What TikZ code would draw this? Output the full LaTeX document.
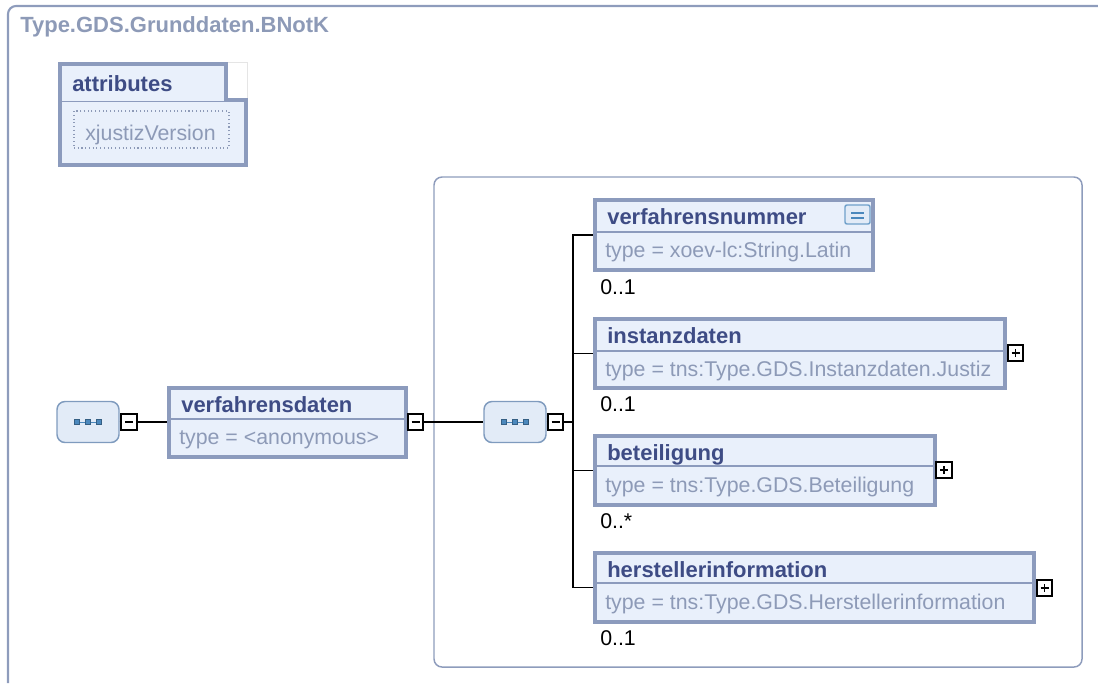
\documentclass[tikz,border=0pt]{standalone}
\usepackage{fontspec}
\setmainfont{Liberation Sans}
\usetikzlibrary{fit}

\definecolor{hdrblue}{HTML}{3E4C85}
\definecolor{typgrey}{HTML}{8D9AB7}
\definecolor{elemborder}{HTML}{8C9BBD}
\definecolor{elemfill}{HTML}{E9F0FB}
\definecolor{framegrey}{HTML}{8E9CBC}
\definecolor{seqfill}{HTML}{E2EBF7}
\definecolor{seqborder}{HTML}{7F9BBE}
\definecolor{iconblue}{HTML}{4B88BD}

\begin{document}
\begin{tikzpicture}[x=0.75pt,y=-0.75pt,
  txt/.style={inner sep=0pt, anchor=base west, font=\fontsize{16}{20}\selectfont},
  hdr/.style={txt, text=hdrblue, font=\fontsize{16.5}{20}\selectfont\bfseries},
  typ/.style={txt, text=typgrey},
  occ/.style={txt, text=black},
  elem/.style={draw=elemborder, fill=elemfill, line width=3pt, inner sep=0pt},
  sepline/.style={draw=elemborder, line width=0.8pt},
  seqbox/.style={draw=seqborder, fill=seqfill, line width=1.1pt, rounded corners=6pt, inner sep=0pt},
  pmbox/.style={draw=black, fill=white, line width=1.4pt, minimum size=11.5pt, inner sep=0pt},
  conn/.style={draw=black, line width=1.4pt},
  sqdot/.style={fill=iconblue, draw=iconblue!70!black, line width=0.3pt, minimum size=3.6pt, inner sep=0pt}]

\useasboundingbox (0,0) rectangle (1098,683);

% outer frame and title
\draw[framegrey, line width=1.6pt, rounded corners=6pt] (8,683) -- (8,6) -- (1098,6);
\node[hdr, text=typgrey] (title) at (20,32) {Type.GDS.Grunddaten.BNotK};

% attributes
\draw[gray!20, line width=0.6pt] (228,62) -- (247,62) -- (247,98);
\draw[elemborder, fill=elemfill, line width=3pt] (59.5,64) -- (226,64) -- (226,100) -- (245.5,100) -- (245.5,164.5) -- (59.5,164.5) -- cycle;
\draw[sepline] (61,101.5) -- (244,101.5);
\node[hdr] (attr) at (72,91) {attributes};
\node[draw=typgrey, dotted, line width=0.8pt, inner sep=0pt, fit={(74,111) (229,148)}] (xver) {};
\node[typ] (xvertxt) at (85,140) {xjustizVersion};

% inner group frame
\draw[framegrey, line width=1.1pt, rounded corners=6pt] (434,177) rectangle (1082,667);

% sequence nodes
\node[seqbox, fit={(57,401.5) (119,442.5)}] (seq1) {};
\node[seqbox, fit={(484,401.5) (546,442.5)}] (seq2) {};
\foreach \s in {seq1,seq2} {
  \draw[iconblue, line width=0.6pt] ([xshift=-8.25pt]\s.center) -- ([xshift=8.25pt]\s.center);
  \node[sqdot] at ([xshift=-8.25pt]\s.center) {};
  \node[sqdot] at (\s.center) {};
  \node[sqdot] at ([xshift=8.25pt]\s.center) {};
}

% verfahrensdaten
\node[elem, fit={(169,387.5) (406,456.5)}] (vdat) {};
\draw[sepline] (171,419) -- (404,419);
\node[hdr] (vdathdr) at (181,412) {verfahrensdaten};
\node[typ] (vdattyp) at (179,444) {type = <anonymous>};

% child elements
\node[elem, fit={(595,200) (873,270)}] (vnum) {};
\draw[sepline] (597,232) -- (871,232);
\node[hdr] (vnumhdr) at (607,224) {verfahrensnummer};
\node[typ] (vnumtyp) at (605,257) {type = xoev-lc:String.Latin};
\node[occ] (vnumocc) at (600,294) {0..1};
\node[draw=iconblue!80, fill=seqfill, line width=1.1pt, rounded corners=1.5pt, inner sep=0pt, fit={(845,205) (870,224)}] (vnumdoc) {};
\draw[iconblue, line width=0.9pt] (851,213) -- (864,213);
\draw[iconblue, line width=0.9pt] (851,218) -- (864,218);

\node[elem, fit={(595,319) (1005,388)}] (inst) {};
\draw[sepline] (597,351) -- (1003,351);
\node[hdr] (insthdr) at (607,343) {instanzdaten};
\node[typ] (insttyp) at (605,376) {type = tns:Type.GDS.Instanzdaten.Justiz};
\node[occ] (instocc) at (600,411) {0..1};

\node[elem, fit={(595,436) (935,505)}] (bet) {};
\draw[sepline] (597,466) -- (933,466);
\node[hdr] (bethdr) at (607,460) {beteiligung};
\node[typ] (bettyp) at (605,492) {type = tns:Type.GDS.Beteiligung};
\node[occ] (betocc) at (600,528) {0..*};

\node[elem, fit={(595,553) (1034,622)}] (her) {};
\draw[sepline] (597,583) -- (1032,583);
\node[hdr] (herhdr) at (607,577) {herstellerinformation};
\node[typ] (hertyp) at (605,609) {type = tns:Type.GDS.Herstellerinformation};
\node[occ] (herocc) at (600,645) {0..1};

% expand / collapse boxes
\node[pmbox] (m1) at (129,422) {};
\node[pmbox] (m2) at (415.5,422) {};
\node[pmbox] (m3) at (555.5,422) {};
\node[pmbox] (p1) at (1015.5,353) {};
\node[pmbox] (p2) at (944,470) {};
\node[pmbox] (p3) at (1044.5,588) {};
\foreach \b in {m1,m2,m3,p1,p2,p3}
  \draw[line width=1.3pt] ([xshift=-3pt]\b.center) -- ([xshift=3pt]\b.center);
\foreach \b in {p1,p2,p3}
  \draw[line width=1.3pt] ([yshift=-3pt]\b.center) -- ([yshift=3pt]\b.center);

% connectors
\coordinate (bar) at (573,422);
\draw[conn] (seq1) -- (m1);
\draw[conn] (m1) -- (vdat);
\draw[conn] (vdat) -- (m2);
\draw[conn] (m2) -- (seq2);
\draw[conn] (seq2) -- (m3);
\draw[conn] (m3) -- (bar);
\draw[conn] (bar) |- (vnum.west);
\draw[conn] (bar) |- (inst.west);
\draw[conn] (bar) |- (bet.west);
\draw[conn] (bar) |- (her.west);
\end{tikzpicture}
\end{document}
